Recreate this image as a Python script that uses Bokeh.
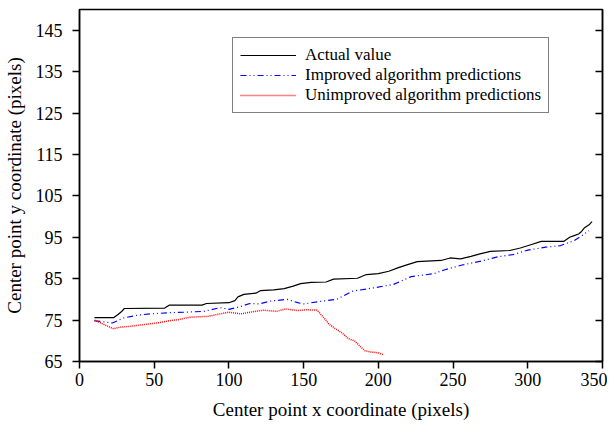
from bokeh.plotting import figure
from bokeh.models import (FixedTicker, LinearAxis, Legend, LegendItem, Range1d)
from bokeh.embed import file_html
from bokeh.resources import INLINE

# ---- data ----
actual_x = [10, 23, 26, 28, 30, 57, 60, 82, 85, 100, 104, 106, 110, 118, 121, 130, 137, 143, 148,
            155, 165, 170, 186, 192, 200, 207, 213, 218, 226, 242, 248, 255, 262, 268, 275, 288,
            295, 302, 309, 324, 328, 331, 334, 336, 338, 341, 343]
actual_y = [75.6, 75.6, 76.4, 77.0, 77.8, 77.9, 78.6, 78.6, 79.0, 79.2, 79.7, 80.6, 81.2, 81.5,
            82.1, 82.3, 82.6, 83.2, 83.8, 84.1, 84.2, 84.9, 85.1, 86.0, 86.2, 86.8, 87.6, 88.2,
            89.1, 89.4, 90.0, 89.8, 90.4, 91.0, 91.6, 91.8, 92.4, 93.2, 94.0, 94.0, 95.0, 95.4,
            95.8, 96.4, 97.3, 98.0, 98.8]

improved_x = [10, 16, 22, 29.5, 38.8, 47.5, 61, 70, 83, 94, 100, 108, 114, 120, 128, 139, 146,
              150, 161, 172, 183, 197, 210, 215, 222, 237, 244, 256, 267, 280, 290, 300, 312,
              322, 331, 337, 341]
improved_y = [74.8, 74.6, 74.3, 75.5, 76.2, 76.5, 76.8, 76.9, 77.1, 78.0, 77.6, 78.3, 79.0, 78.9,
              79.6, 80.0, 79.2, 78.9, 79.5, 80.0, 82.0, 82.8, 83.6, 84.4, 85.5, 86.2, 87.1, 88.3,
              89.1, 90.3, 90.8, 91.9, 92.6, 93.0, 94.2, 95.6, 96.6]

unimproved_x = [10, 16, 22.8, 27.4, 34, 43, 52, 61, 66, 74, 86, 94, 100, 108, 114, 123, 132, 138,
                146, 152, 159, 163, 167, 171, 176, 180, 184, 188, 191, 195, 200, 203]
unimproved_y = [75.0, 74.0, 72.9, 73.3, 73.5, 73.9, 74.3, 74.9, 75.1, 75.7, 75.9, 76.5, 76.9, 76.5,
                76.9, 77.4, 77.1, 77.7, 77.3, 77.5, 77.4, 75.8, 74.0, 73.0, 71.8, 70.5, 70.0,
                68.6, 67.6, 67.3, 67.1, 66.7]

x_ticks = [0, 50, 100, 150, 200, 250, 300, 350]
y_ticks = [65, 75, 85, 95, 105, 115, 125, 135, 145]

FONT = "Liberation Serif"

p = figure(frame_width=523, frame_height=352, output_backend="svg", toolbar_location=None,
           x_range=Range1d(0, 350), y_range=Range1d(65, 150),
           min_border_left=79, min_border_right=5, min_border_top=9, min_border_bottom=60)
p.grid.visible = False
p.outline_line_color = "black"
p.outline_line_width = 1.5
p.background_fill_color = "white"
p.border_fill_color = "white"

# axes
xa = p.xaxis[0]
xa.ticker = FixedTicker(ticks=x_ticks)
xa.axis_label = "Center point x coordinate (pixels)"
ya = p.yaxis[0]
ya.ticker = FixedTicker(ticks=y_ticks)
ya.axis_label = "Center point y coordinate (pixels)"
for ax in (xa, ya):
    ax.axis_line_width = 1.5
    ax.major_tick_line_width = 1.5
    ax.major_tick_out = 7
    ax.major_tick_in = 0
    ax.minor_tick_line_color = None
    ax.major_label_text_font = FONT
    ax.major_label_text_font_size = "18px"
    ax.major_label_text_color = "black"
    ax.axis_label_text_font = FONT
    ax.axis_label_text_font_size = "19px"
    ax.axis_label_text_font_style = "normal"
    ax.axis_label_text_color = "black"
xa.major_label_standoff = 4
xa.axis_label_standoff = 10
ya.major_label_standoff = 10
ya.axis_label_standoff = 8

ra = LinearAxis(ticker=FixedTicker(ticks=y_ticks), major_label_text_font_size="0px",
                major_label_standoff=0,
                major_tick_in=7, major_tick_out=0, minor_tick_line_color=None,
                axis_line_width=1.5, major_tick_line_width=1.5)
p.add_layout(ra, "right")

r1 = p.line(actual_x, actual_y, line_color="black", line_width=1.2)
r2 = p.line(improved_x, improved_y, line_color="#0000ff", line_width=1.2, line_dash="6 3 1 3 1 3")
r3 = p.line(unimproved_x, unimproved_y, line_color="#ff0000", line_width=1.5, line_dash="1 1")

legend = Legend(items=[LegendItem(label="Actual value", renderers=[r1]),
                       LegendItem(label="Improved algorithm predictions", renderers=[r2]),
                       LegendItem(label="Unimproved algorithm predictions", renderers=[r3])],
                location=(153, 248), orientation="vertical")
legend.label_text_font = FONT
legend.label_text_font_size = "17px"
legend.label_text_color = "black"
legend.glyph_width = 56
legend.glyph_height = 16
legend.label_height = 16
legend.label_standoff = 9
legend.spacing = -2
legend.padding = 7
legend.margin = 0
legend.border_line_color = "black"
legend.border_line_width = 1
legend.background_fill_alpha = 1
p.add_layout(legend, "center")

open("out.html", "w").write(file_html(p, INLINE))
